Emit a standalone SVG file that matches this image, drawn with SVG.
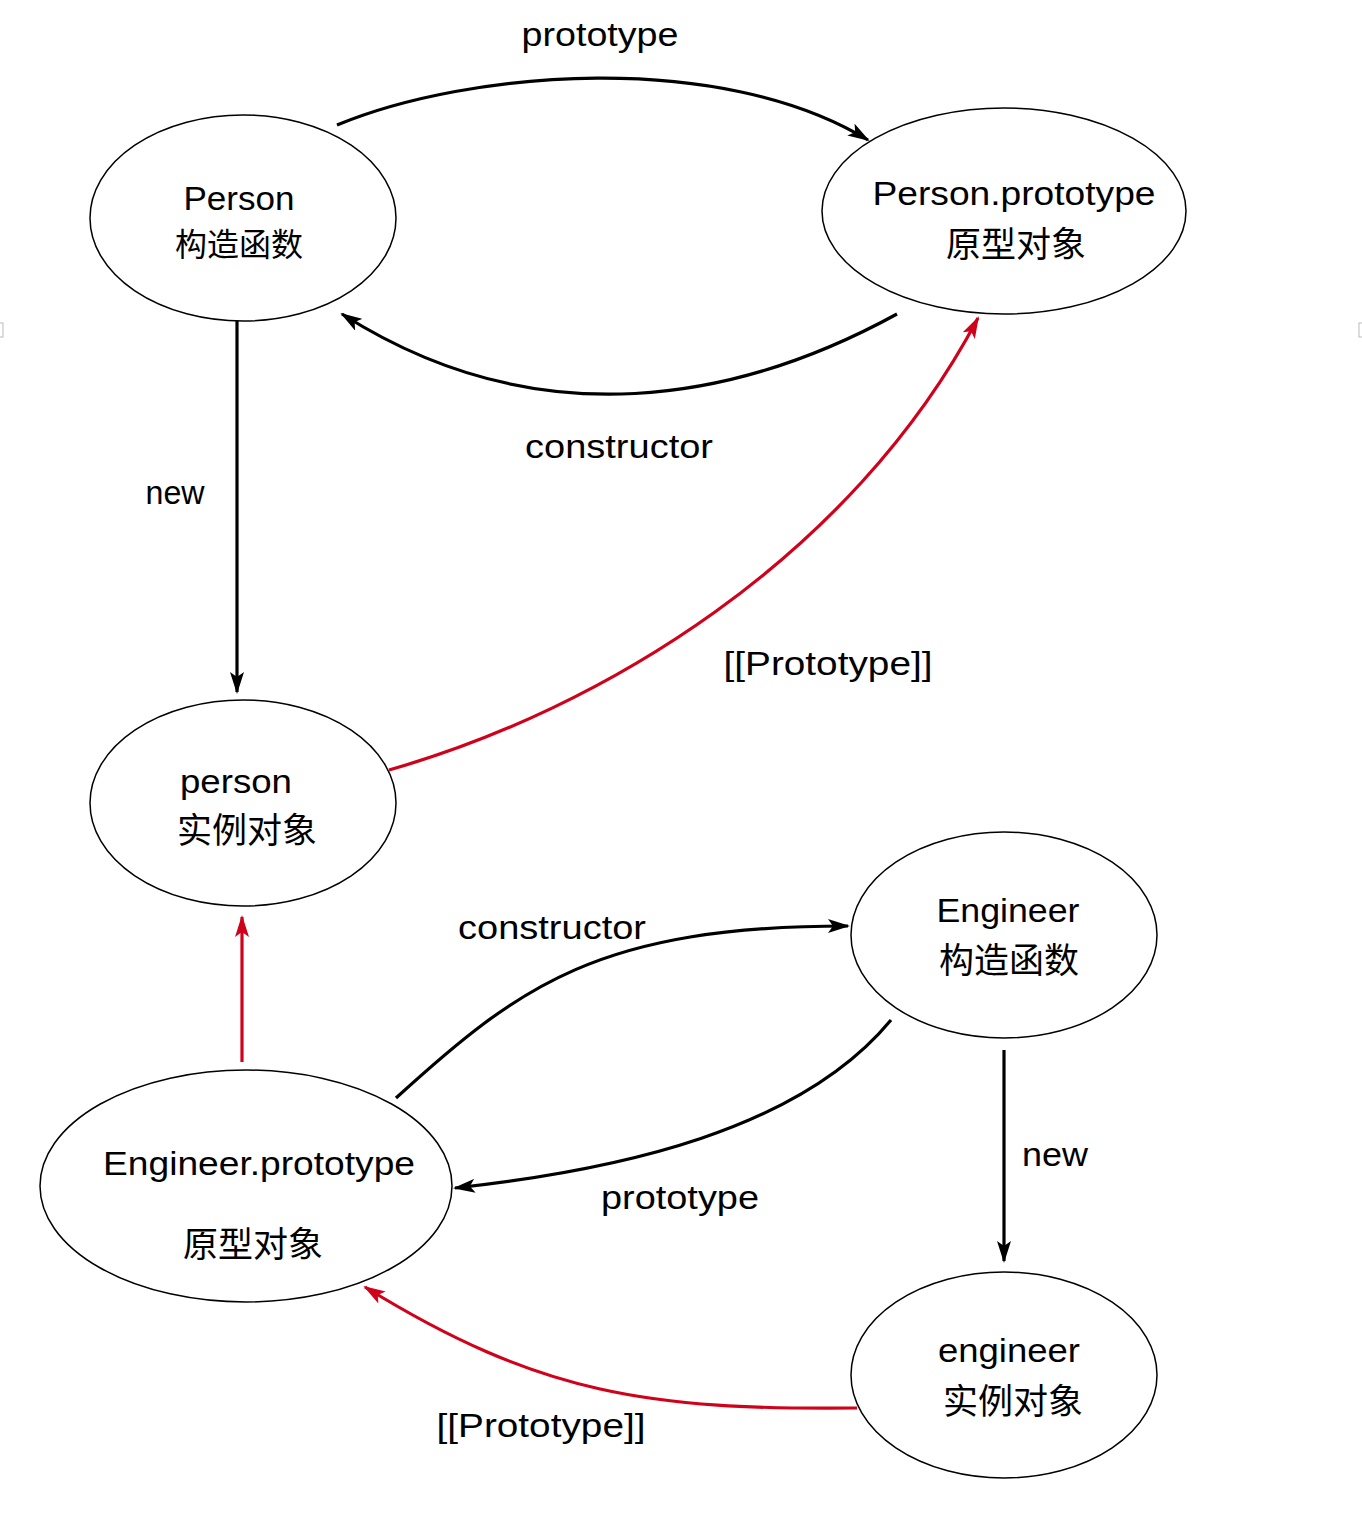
<svg xmlns="http://www.w3.org/2000/svg" width="1362" height="1536" viewBox="0 0 1362 1536">
<style>
.node ellipse{fill:#fff;stroke:#000;stroke-width:1.5}
text{font-family:"Liberation Sans","Noto Sans CJK SC",sans-serif;fill:#000;text-anchor:middle}
.t{font-size:34px}
.c{font-size:35px}
.c2{font-size:32px}
.lbl{font-size:33px}
.edge{fill:none;stroke-width:3.2}
.blk{stroke:#000;marker-end:url(#ab)}
.red{stroke:#d0021b;marker-end:url(#ar)}
</style>
<defs>
<marker id="ab" viewBox="0 0 22 14" refX="20" refY="7" markerWidth="22" markerHeight="14" orient="auto" markerUnits="userSpaceOnUse">
<path d="M0,0 L22,7 L0,14 L5,7 z" fill="#000"/>
</marker>
<marker id="ar" viewBox="0 0 22 14" refX="20" refY="7" markerWidth="22" markerHeight="14" orient="auto" markerUnits="userSpaceOnUse">
<path d="M0,0 L22,7 L0,14 L5,7 z" fill="#d0021b"/>
</marker>
</defs>
<rect width="1362" height="1536" fill="#fff"/>
<rect x="-4" y="323" width="7" height="14" fill="none" stroke="#bbb" stroke-width="1"/>
<rect x="1359" y="323" width="7" height="14" fill="none" stroke="#bbb" stroke-width="1"/>

<g id="connectors">
<path class="edge blk" d="M337,125 C470,70 720,50 868,140"/>
<path class="edge blk" d="M897,314 C740,400 540,440 342,314"/>
<path class="edge blk" d="M237,321 L237,692"/>
<path class="edge red" d="M389,770 C600,710 850,560 978,318"/>
<path class="edge red" d="M242,1062 L242,917"/>
<path class="edge blk" d="M396,1098 C520,985 600,926 848,926"/>
<path class="edge blk" d="M891,1020 C800,1130 620,1170 455,1188"/>
<path class="edge blk" d="M1004,1050 L1004,1261"/>
<path class="edge red" d="M857,1408 C650,1410 540,1395 365,1287"/>
<text class="lbl" x="600" y="46" textLength="157" lengthAdjust="spacingAndGlyphs">prototype</text>
<text class="lbl" x="619" y="458" textLength="188" lengthAdjust="spacingAndGlyphs">constructor</text>
<text class="lbl" x="175" y="504" textLength="59" lengthAdjust="spacingAndGlyphs">new</text>
<text class="lbl" x="828" y="675" textLength="209" lengthAdjust="spacingAndGlyphs">[[Prototype]]</text>
<text class="lbl" x="552" y="939" textLength="188" lengthAdjust="spacingAndGlyphs">constructor</text>
<text class="lbl" x="680" y="1209" textLength="158" lengthAdjust="spacingAndGlyphs">prototype</text>
<text class="lbl" x="1055" y="1166" textLength="66" lengthAdjust="spacingAndGlyphs">new</text>
<text class="lbl" x="541" y="1437" textLength="209" lengthAdjust="spacingAndGlyphs">[[Prototype]]</text>
</g>

<g id="node-Person" class="node">
<ellipse cx="243" cy="218" rx="153" ry="103"/>
<text class="t" x="239" y="210" textLength="111" lengthAdjust="spacingAndGlyphs">Person</text>
<text class="c2" x="239" y="256">构造函数</text>
</g>
<g id="node-PersonPrototype" class="node">
<ellipse cx="1004" cy="211" rx="182" ry="103"/>
<text class="t" x="1014" y="205" textLength="283" lengthAdjust="spacingAndGlyphs">Person.prototype</text>
<text class="c" x="1016" y="257">原型对象</text>
</g>
<g id="node-person" class="node">
<ellipse cx="243" cy="803" rx="153" ry="103"/>
<text class="t" x="236" y="793" textLength="112" lengthAdjust="spacingAndGlyphs">person</text>
<text class="c" x="247" y="843">实例对象</text>
</g>
<g id="node-Engineer" class="node">
<ellipse cx="1004" cy="935" rx="153" ry="103"/>
<text class="t" x="1008" y="922" textLength="143" lengthAdjust="spacingAndGlyphs">Engineer</text>
<text class="c" x="1009" y="973">构造函数</text>
</g>
<g id="node-EngineerPrototype" class="node">
<ellipse cx="246" cy="1186" rx="206" ry="116"/>
<text class="t" x="259" y="1175" textLength="312" lengthAdjust="spacingAndGlyphs">Engineer.prototype</text>
<text class="c" x="253" y="1257">原型对象</text>
</g>
<g id="node-engineer" class="node">
<ellipse cx="1004" cy="1375" rx="153" ry="103"/>
<text class="t" x="1009" y="1362" textLength="142" lengthAdjust="spacingAndGlyphs">engineer</text>
<text class="c" x="1013" y="1414">实例对象</text>
</g>
</svg>
